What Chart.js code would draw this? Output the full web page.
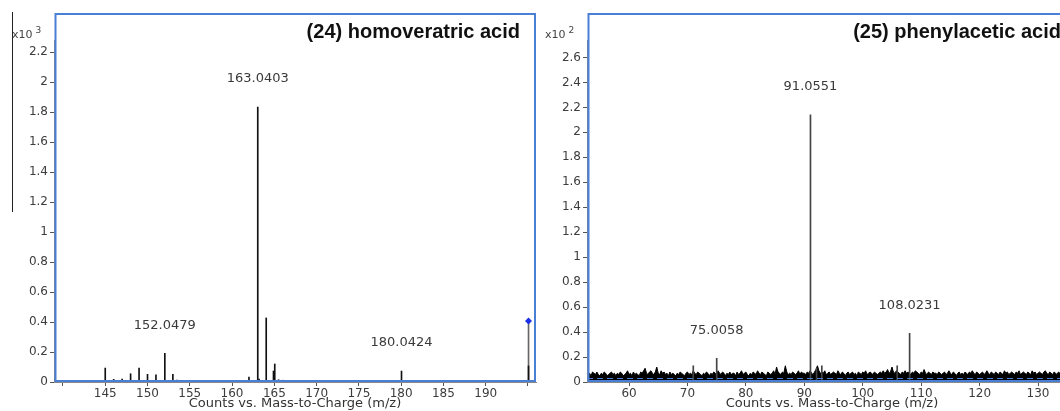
<!DOCTYPE html>
<html><head><meta charset="utf-8">
<script src="https://cdn.jsdelivr.net/npm/chart.js@4.4.1/dist/chart.umd.min.js"></script>
<style>
html,body{margin:0;padding:0;background:#fff;width:1060px;height:411px;overflow:hidden;position:relative}
#c1wrap{position:absolute;left:0;top:0;width:540px;height:411px}
#c2wrap{position:absolute;left:533px;top:0;width:546px;height:411px}
#edge{position:absolute;left:12px;top:12px;width:1px;height:200px;background:#222}
</style></head><body>
<div id="edge"></div>
<div id="c1wrap"><canvas id="c1" width="540" height="411"></canvas></div>
<div id="c2wrap"><canvas id="c2" width="546" height="411"></canvas></div>
<script>
// ---------- (24) homoveratric acid : counts ----------
const leftTitle = '(24) homoveratric acid';
const leftPeakMz = [141.5, 145.0, 146.0, 147.0, 148.0, 149.0, 150.0, 151.0, 151.5, 152.0479, 153.0, 153.5, 154.0, 155.0, 157.0, 160.0, 161.0, 162.0, 162.5, 163.0403, 163.2, 164.04, 164.5, 164.9, 165.05, 165.5, 166.0, 167.1, 168.0, 171.5, 180.0424, 181.0, 186.4, 189.7, 193.0, 195.066];
const leftPeakCounts = [8, 93, 18, 20, 55, 93, 51, 47, 10, 191, 51, 12, 10, 8, 5, 5, 10, 33, 8, 1833, 20, 427, 10, 73, 120, 15, 12, 8, 5, 5, 73, 8, 5, 5, 5, 107];
const leftPrecursorMz = [195.066];
const leftPrecursorCounts = [407];
const leftLabelMz = [152.0479, 163.0403, 180.0424];
const leftXTickLabels = [145, 150, 155, 160, 165, 170, 175, 180, 185, 190];

// ---------- (25) phenylacetic acid : counts ----------
const rightTitle = '(25) phenylacetic acid';
const rightPeakMz = [71.0, 75.0058, 91.0551, 92.1, 93.0, 105.9, 108.0231];
const rightPeakCounts = [13, 19, 214, 11, 13, 13, 39];
const rightNoiseStartMz = 53.0;
const rightNoiseStepMz = 0.25;
const rightNoiseCounts = [
 6,7,5,8,7,6,8,6,5,7,6,8,7,5,6,7,8,6,7,5,
 7,6,8,7,5,6,7,9,6,7,5,8,6,7,6,5,8,7,9,11,
 7,6,8,9,7,6,8,12,7,6,9,7,8,6,7,5,8,6,7,6,
 5,7,6,8,7,6,5,7,8,6,7,6,9,7,6,8,7,6,5,7,
 6,8,7,5,7,6,8,7,6,9,7,6,8,7,5,7,6,8,6,7,
 7,5,8,6,7,9,6,7,8,6,5,7,6,8,7,6,9,7,6,8,
 7,6,5,8,7,6,7,9,6,12,8,7,6,8,7,13,8,6,7,6,
 8,7,6,7,9,6,8,7,7,6,8,7,9,7,6,8,10,13,9,7,
 8,7,9,6,7,8,6,7,8,7,6,9,7,6,8,7,5,7,8,6,
 7,8,6,7,5,8,7,6,8,7,9,6,7,8,7,6,8,7,6,7,
 8,7,9,7,8,10,7,8,12,8,7,9,8,7,6,8,7,9,7,8,
 7,6,8,7,9,8,7,6,8,7,10,7,6,8,7,6,8,7,7,6,
 8,7,6,7,8,6,7,9,7,6,8,7,5,7,8,6,7,6,8,7,
 6,8,7,9,7,6,8,7,6,7,8,6,7,9,7,6,8,7,6,8,
 7,6,8,7,6,9,7,8,6,7,8,7,6,8,7,9,6,7,8,7,
 6,8,7,6,9,7,8,6,7,8,7,6,8,9,7,6,8,7,6,8,
 7,6,8,7,9,7,6,8,7,8,6,7
];
const rightLabelMz = [75.0058, 91.0551, 108.0231];
const rightXTickLabels = [60, 70, 80, 90, 100, 110, 120, 130];

const AXIS_FONT = {family: '"DejaVu Sans", sans-serif', size: 12};
const FRAME_BLUE = '#4a7fd6';

const decor = {
  id: 'decor',
  afterDatasetsDraw(chart, args, o) {
    const {ctx, chartArea: a, scales: {x, y}} = chart;
    ctx.save();
    if (o.dashed) {
      ctx.strokeStyle = FRAME_BLUE; ctx.lineWidth = 1; ctx.setLineDash([6, 4]);
      ctx.beginPath(); ctx.moveTo(a.left, a.bottom - 3.5); ctx.lineTo(a.right, a.bottom - 3.5); ctx.stroke();
      ctx.setLineDash([]);
    }
    // selection frame
    ctx.strokeStyle = FRAME_BLUE; ctx.lineWidth = 2;
    ctx.strokeRect(a.left + 1.5, a.top - 26, a.right - a.left - 2.5, a.bottom - 1 - (a.top - 26));
    // title
    ctx.fillStyle = '#111';
    ctx.font = 'bold 20px "Liberation Sans", Arial, sans-serif';
    ctx.textAlign = 'right'; ctx.textBaseline = 'alphabetic';
    ctx.fillText(o.title, a.right - 16, a.top - 2);
    // exponent
    ctx.fillStyle = '#444';
    ctx.textAlign = 'left';
    ctx.font = '11px "DejaVu Sans", sans-serif';
    const ex = a.left - 42;
    ctx.fillText('x10', ex, 38);
    const w = ctx.measureText('x10').width;
    ctx.font = '9px "DejaVu Sans", sans-serif';
    ctx.fillText(o.exp, ex + w + 3, 33);
    // peak labels
    ctx.fillStyle = '#3a3a3a';
    ctx.font = '13px "DejaVu Sans", sans-serif';
    ctx.textAlign = 'center'; ctx.textBaseline = 'middle';
    o.labels.forEach(mz => {
      const i = o.mzs.indexOf(mz);
      const px = x.getPixelForValue(mz);
      const py = y.getPixelForValue(o.counts[i]);
      ctx.fillText(mz.toFixed(4), px, py - 28);
    });
    ctx.restore();
  }
};

function pts(mzs, counts) { return mzs.map((m, i) => ({x: m, y: counts[i]})); }

function makeChart(id, cfg) {
  const datasets = [];
  if (cfg.precMz) {
    datasets.push({type: 'line', data: pts(cfg.precMz, cfg.precCounts), showLine: false,
      pointStyle: 'rectRot', pointRadius: 3.5, pointBackgroundColor: '#1a2fe8', pointBorderWidth: 0});
  }
  datasets.push({type: 'bar', data: pts(cfg.mzs, cfg.counts), backgroundColor: cfg.stickColor,
    barThickness: 1, grouped: false, borderWidth: 0});
  if (cfg.precMz) {
    datasets.push({type: 'bar', data: pts(cfg.precMz, cfg.precCounts), backgroundColor: '#666',
      barThickness: 1, grouped: false, borderWidth: 0});
  }
  if (cfg.noise) {
    datasets.push({type: 'line', data: cfg.noiseCounts.map((c, i) => ({x: cfg.noiseStart + i * cfg.noiseStep, y: c})),
      borderColor: '#000', borderWidth: 1, backgroundColor: '#000', fill: 'origin', pointRadius: 0, tension: 0});
  }
  return new Chart(document.getElementById(id), {
    type: 'bar',
    data: {datasets},
    options: {
      responsive: false, animation: false, events: [],
      layout: {padding: {top: 40, right: cfg.padRight, left: 0, bottom: 0}},
      plugins: {legend: {display: false}, tooltip: {enabled: false},
        decor: {title: cfg.title, exp: cfg.exp, labels: cfg.labels, mzs: cfg.mzs, counts: cfg.counts, dashed: !!cfg.noise}},
      scales: {
        x: {
          type: 'linear', min: cfg.xMin, max: cfg.xMax, offset: false,
          afterFit: s => { s.height = 29; },
          grid: {display: true, offset: false, drawOnChartArea: false, tickLength: 4, tickColor: '#555'},
          border: {display: true, color: '#888', width: 1},
          ticks: {stepSize: cfg.xStep, includeBounds: false, autoSkip: false, maxRotation: 0, padding: 1,
            color: '#3c3c3c', font: AXIS_FONT,
            callback: v => cfg.xLabels.includes(v) ? String(v) : ''},
          title: {display: true, text: 'Counts vs. Mass-to-Charge (m/z)', padding: 0, color: '#333',
            font: {family: '"DejaVu Sans", sans-serif', size: 13, lineHeight: 1.1}}
        },
        y: {
          min: 0, max: cfg.yMax,
          afterFit: s => { s.width = 54; },
          grid: {display: true, drawOnChartArea: false, tickLength: 4, tickColor: '#555'},
          border: {display: true, color: '#888', width: 1},
          ticks: {stepSize: cfg.yStep, includeBounds: false, padding: 2, color: '#3c3c3c', font: AXIS_FONT,
            callback: v => String(+(v / cfg.div).toFixed(1))}
        }
      }
    },
    plugins: [decor]
  });
}

makeChart('c1', {
  title: leftTitle, exp: '3', div: 1000,
  mzs: leftPeakMz, counts: leftPeakCounts, stickColor: '#111',
  precMz: leftPrecursorMz, precCounts: leftPrecursorCounts,
  labels: leftLabelMz, xLabels: leftXTickLabels,
  xMin: 138.94, xMax: 195.95, xStep: 5, yMax: 2280, yStep: 200, padRight: 2
});

makeChart('c2', {
  title: rightTitle, exp: '2', div: 100,
  mzs: rightPeakMz, counts: rightPeakCounts, stickColor: '#444',
  noise: true, noiseCounts: rightNoiseCounts, noiseStart: rightNoiseStartMz, noiseStep: rightNoiseStepMz,
  labels: rightLabelMz, xLabels: rightXTickLabels,
  xMin: 52.81, xMax: 136.67, xStep: 10, yMax: 274, yStep: 20, padRight: 2
});
</script>
</body></html>
